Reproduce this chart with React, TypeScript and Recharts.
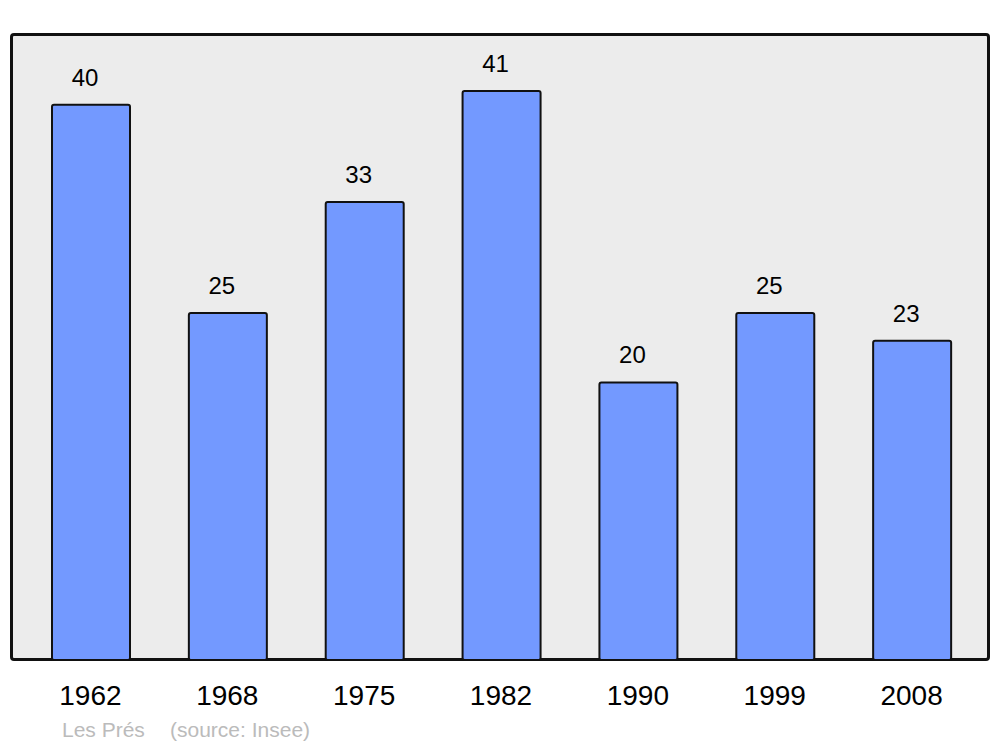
import React from 'react';
import { BarChart, Bar, XAxis, YAxis, LabelList } from 'recharts';

const years = ['1962', '1968', '1975', '1982', '1990', '1999', '2008'];
const population = [40, 25, 33, 41, 20, 25, 23];

const data = years.map((year, i) => ({ year, value: population[i] }));

const FONT = '"Liberation Sans", Arial, sans-serif';

function ValueLabel(props: any) {
  const { x, y, width, value } = props;
  return (
    <text x={x + width / 2 - 6} y={y - 19} textAnchor="middle" fontSize={24} fill="#000" fontFamily={FONT}>
      {value}
    </text>
  );
}

function YearTick(props: any) {
  const { x, payload } = props;
  return (
    <text x={x - 1} y={705} textAnchor="middle" fontSize={28} fill="#000" fontFamily={FONT}>
      {payload.value}
    </text>
  );
}

export default function App() {
  return (
    <div style={{ position: 'absolute', left: 0, top: 0, width: 1000, height: 747, background: '#fff', fontFamily: FONT }}>
      <div
        style={{
          position: 'absolute',
          left: 10,
          top: 33,
          width: 980,
          height: 628,
          border: '3px solid #111',
          borderRadius: 4,
          background: '#ececec',
          boxSizing: 'border-box',
        }}
      />
      <div style={{ position: 'absolute', left: 0, top: 0 }}>
        <BarChart width={1000} height={747} data={data} margin={{ top: 34, right: 11, bottom: 0, left: 11 }}>
          <XAxis
            dataKey="year"
            axisLine={false}
            tickLine={false}
            padding={{ left: 12, right: 8 }}
            tick={<YearTick />}
            height={87}
            interval={0}
          />
          <YAxis hide domain={[0, 45.1]} />
          <Bar dataKey="value" fill="#7399ff" stroke="#111" strokeWidth={2} barSize={78} radius={2} isAnimationActive={false}>
            <LabelList dataKey="value" content={<ValueLabel />} />
          </Bar>
        </BarChart>
      </div>
      <div style={{ position: 'absolute', left: 62, top: 718, fontSize: 21, color: '#bbb', whiteSpace: 'pre' }}>
        Les Prés
      </div>
      <div style={{ position: 'absolute', left: 170, top: 718, fontSize: 21, color: '#bbb', whiteSpace: 'pre' }}>
        (source: Insee)
      </div>
    </div>
  );
}
